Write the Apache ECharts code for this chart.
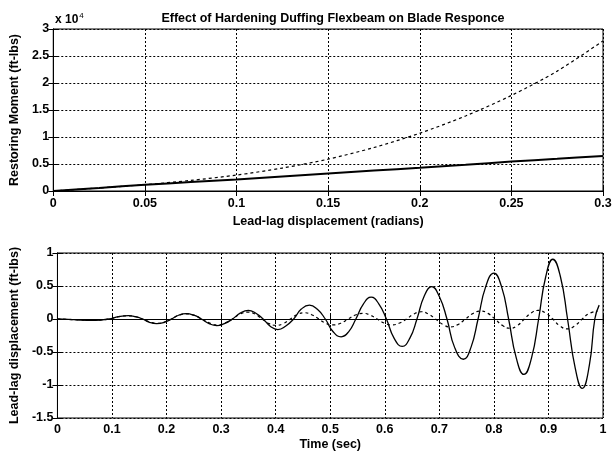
<!DOCTYPE html>
<html>
<head>
<meta charset="utf-8">
<script src="https://cdn.jsdelivr.net/npm/echarts@6/dist/echarts.min.js"></script>
<style>
  html, body { margin: 0; padding: 0; background: #fff; }
  #chart { width: 616px; height: 453px; }
</style>
</head>
<body>
<div id="chart"></div>
<script>
// Restoring moment vs. lead-lag displacement (radians)
const dispRad = [0, 0.025, 0.05, 0.075, 0.1, 0.125, 0.15, 0.175, 0.2, 0.225, 0.25, 0.275, 0.3];
const momentLinear = [0, 560, 1150, 1650, 2150, 2700, 3250, 3800, 4300, 4850, 5450, 5950, 6500];
const momentDuffing = [0, 560, 1180, 1960, 2950, 4250, 5900, 8050, 10700, 13900, 17700, 22200, 27800];

// Tick labels
const momentTicks = ['0', '0.5', '1', '1.5', '2', '2.5', '3'];

// Time response [time (sec), lead-lag displacement]
const respLinear = [
  [0, 0.00], [0.02, -0.005], [0.04, -0.015], [0.06, -0.02], [0.08, -0.015], [0.095, 0.00],
  [0.112, 0.035], [0.130, 0.050], [0.143, 0.035], [0.156, 0.00], [0.169, -0.05], [0.182, -0.070],
  [0.196, -0.05], [0.209, 0.00], [0.222, 0.057], [0.236, 0.080], [0.250, 0.057], [0.264, 0.00],
  [0.278, -0.07], [0.292, -0.100], [0.306, -0.07], [0.321, 0.00], [0.335, 0.09], [0.350, 0.130],
  [0.363, 0.09], [0.377, 0.00], [0.390, -0.11], [0.404, -0.160], [0.418, -0.11], [0.433, 0.00],
  [0.447, 0.15], [0.462, 0.210], [0.476, 0.15], [0.491, 0.00], [0.505, -0.19], [0.520, -0.270],
  [0.534, -0.19], [0.547, 0.00], [0.561, 0.23], [0.575, 0.330], [0.589, 0.23], [0.603, 0.00],
  [0.617, -0.29], [0.632, -0.415], [0.646, -0.29], [0.659, 0.00], [0.672, 0.34], [0.686, 0.490],
  [0.700, 0.34], [0.714, 0.00], [0.728, -0.43], [0.744, -0.610], [0.758, -0.43], [0.771, 0.00],
  [0.785, 0.49], [0.800, 0.695], [0.814, 0.49], [0.827, 0.00], [0.841, -0.59], [0.855, -0.840],
  [0.869, -0.59], [0.882, 0.00], [0.895, 0.64], [0.908, 0.905], [0.922, 0.64], [0.935, 0.00],
  [0.949, -0.74], [0.962, -1.050], [0.975, -0.70], [0.985, 0.00], [0.993, 0.21]
];
const respDuffing = [
  [0, 0.00], [0.02, -0.005], [0.04, -0.015], [0.06, -0.02], [0.08, -0.015], [0.095, 0.00],
  [0.112, 0.035], [0.130, 0.048], [0.143, 0.034], [0.156, 0.00], [0.169, -0.045], [0.182, -0.065],
  [0.196, -0.045], [0.209, 0.00], [0.222, 0.055], [0.237, 0.078], [0.251, 0.055], [0.265, 0.00],
  [0.279, -0.06], [0.293, -0.090], [0.307, -0.06], [0.321, 0.00], [0.335, 0.075], [0.349, 0.105],
  [0.362, 0.075], [0.375, 0.00], [0.388, -0.07], [0.401, -0.095], [0.414, -0.07], [0.427, 0.00],
  [0.440, 0.07], [0.453, 0.095], [0.466, 0.065], [0.479, 0.00], [0.492, -0.065], [0.506, -0.090],
  [0.519, -0.065], [0.533, 0.00], [0.546, 0.06], [0.560, 0.085], [0.573, 0.06], [0.586, 0.00],
  [0.600, -0.065], [0.613, -0.090], [0.626, -0.065], [0.640, 0.00], [0.653, 0.075], [0.667, 0.110],
  [0.680, 0.075], [0.693, 0.00], [0.707, -0.085], [0.720, -0.120], [0.734, -0.085], [0.748, 0.00],
  [0.762, 0.085], [0.776, 0.120], [0.789, 0.085], [0.802, 0.00], [0.816, -0.10], [0.830, -0.140],
  [0.843, -0.10], [0.856, 0.00], [0.868, 0.09], [0.881, 0.130], [0.895, 0.09], [0.908, 0.00],
  [0.921, -0.105], [0.935, -0.150], [0.948, -0.105], [0.962, 0.00], [0.975, 0.085], [0.990, 0.120]
];

const FONT = '"Liberation Sans", Arial, sans-serif';
const dotted = { color: '#000', width: 1, type: [2, 2] };
const labelStyle = { color: '#000', fontFamily: FONT, fontSize: 12.5, fontWeight: 'bold' };
const nameStyle = { color: '#000', fontFamily: FONT, fontSize: 12.5, fontWeight: 'bold' };

function boxAxis(extra) {
  return Object.assign({
    axisLine: { show: true, lineStyle: { color: '#000', width: 1 } },
    axisTick: { show: true, inside: true, length: 5, lineStyle: { color: '#000' } },
    axisLabel: { show: false },
    splitLine: { show: false }
  }, extra);
}

const chart = echarts.init(document.getElementById('chart'), null, { renderer: 'canvas' });

chart.setOption({
  backgroundColor: '#fff',
  animation: false,
  title: {
    text: 'Effect of Hardening Duffing Flexbeam on Blade Responce',
    left: 328, top: 7, textAlign: 'center',
    textStyle: { color: '#000', fontFamily: FONT, fontSize: 12.5, fontWeight: 'bold' }
  },
  graphic: [{
    type: 'text', left: 55, top: 12,
    style: {
      text: '{b|x 10}{s|4}',
      rich: {
        b: { fontFamily: FONT, fontSize: 12, fontWeight: 'bold', fill: '#000' },
        s: { fontFamily: FONT, fontSize: 8, fill: '#000', verticalAlign: 'top', padding: [0, 0, 8, 1] }
      }
    }
  }],
  grid: [
    { left: 53, right: 13, top: 29, height: 162, show: true, borderColor: '#000', borderWidth: 1, backgroundColor: '#fff' },
    { left: 53, right: 13, top: 253, height: 165, show: true, borderColor: '#000', borderWidth: 1, backgroundColor: '#fff' }
  ],
  xAxis: [
    {
      type: 'value', gridIndex: 0, min: 0, max: 0.3, interval: 0.05,
      name: 'Lead-lag displacement (radians)', nameLocation: 'middle', nameGap: 24, nameTextStyle: nameStyle,
      axisLine: { lineStyle: { color: '#000' } },
      axisTick: { inside: true, length: 5, lineStyle: { color: '#000' } },
      axisLabel: Object.assign({ margin: 6 }, labelStyle),
      splitLine: { show: true, lineStyle: dotted }
    },
    {
      type: 'value', gridIndex: 1, min: 0, max: 1, interval: 0.1,
      name: 'Time (sec)', nameLocation: 'middle', nameGap: 20, nameTextStyle: nameStyle,
      axisLine: { lineStyle: { color: '#000' } },
      axisTick: { inside: true, length: 5, lineStyle: { color: '#000' } },
      axisLabel: Object.assign({ margin: 5 }, labelStyle),
      splitLine: { show: true, lineStyle: dotted }
    },
    boxAxis({ type: 'value', gridIndex: 0, position: 'top', min: 0, max: 0.3, interval: 0.05 }),
    boxAxis({ type: 'value', gridIndex: 1, position: 'top', min: 0, max: 1, interval: 0.1 })
  ],
  yAxis: [
    {
      type: 'value', gridIndex: 0, min: 0, max: 30000, interval: 5000,
      name: 'Restoring Moment (ft-lbs)', nameLocation: 'middle', nameGap: 31, nameTextStyle: nameStyle,
      axisLine: { show: true, lineStyle: { color: '#000' } },
      axisTick: { show: true, inside: true, length: 5, lineStyle: { color: '#000' } },
      axisLabel: Object.assign({
        margin: 4,
        formatter: (v) => momentTicks[Math.round(v / 5000)]
      }, labelStyle),
      splitLine: { show: true, lineStyle: dotted }
    },
    {
      type: 'value', gridIndex: 1, min: -1.5, max: 1, interval: 0.5,
      name: 'Lead-lag displacement (ft-lbs)', nameLocation: 'middle', nameGap: 31, nameTextStyle: nameStyle,
      axisLine: { show: true, lineStyle: { color: '#000' } },
      axisTick: { show: true, inside: true, length: 5, lineStyle: { color: '#000' } },
      axisLabel: Object.assign({ margin: 4 }, labelStyle),
      splitLine: { show: true, lineStyle: dotted }
    },
    boxAxis({ type: 'value', gridIndex: 0, position: 'right', min: 0, max: 30000, interval: 5000 }),
    boxAxis({ type: 'value', gridIndex: 1, position: 'right', min: -1.5, max: 1, interval: 0.5 })
  ],
  series: [
    {
      type: 'line', xAxisIndex: 0, yAxisIndex: 0, symbol: 'none', smooth: 0.3,
      data: dispRad.map((x, i) => [x, momentDuffing[i]]),
      lineStyle: { color: '#000', width: 1.2, type: [3, 3] }
    },
    {
      type: 'line', xAxisIndex: 0, yAxisIndex: 0, symbol: 'none', smooth: 0.3,
      data: dispRad.map((x, i) => [x, momentLinear[i]]),
      lineStyle: { color: '#000', width: 2 }
    },
    {
      type: 'line', xAxisIndex: 1, yAxisIndex: 1, symbol: 'none', smooth: 0.5,
      data: respDuffing,
      lineStyle: { color: '#000', width: 1.2, type: [3, 3] }
    },
    {
      type: 'line', xAxisIndex: 1, yAxisIndex: 1, symbol: 'none', smooth: 0.5,
      data: respLinear,
      lineStyle: { color: '#000', width: 1.3 }
    }
  ]
});
</script>
</body>
</html>
